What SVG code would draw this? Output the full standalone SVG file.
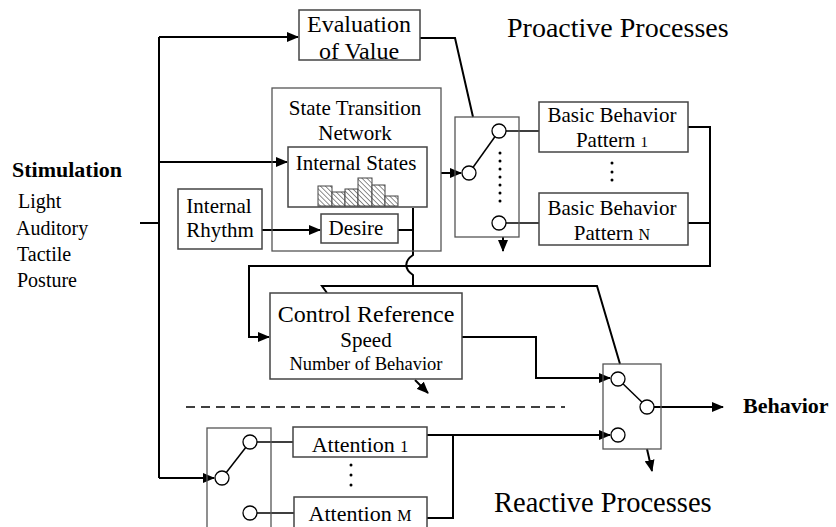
<svg xmlns="http://www.w3.org/2000/svg" width="836" height="527" viewBox="0 0 836 527">
<style>
.bx{fill:#fff;stroke:#444;stroke-width:1.5}
.gb{fill:none;stroke:#555;stroke-width:1.3}
.ln{fill:none;stroke:#000;stroke-width:2}
.th{fill:none;stroke:#000;stroke-width:1.5}
.c{fill:#fff;stroke:#000;stroke-width:1.3}
.t{font-family:"Liberation Serif","Times New Roman",serif;fill:#000}
.b{font-weight:bold}
.m{text-anchor:middle}
.dot{fill:#000}
</style>
<defs>
<marker id="ah" markerUnits="userSpaceOnUse" markerWidth="12" markerHeight="10" refX="11" refY="5" orient="auto">
<path d="M0,0 L12,5 L0,10 Z" fill="#000"/>
</marker>
<pattern id="hatch" patternUnits="userSpaceOnUse" width="3.5" height="3.5" patternTransform="rotate(-45)">
<rect width="3.5" height="3.5" fill="#fff"/>
<line x1="0" y1="0" x2="0" y2="3.5" stroke="#333" stroke-width="1.1"/>
</pattern>
</defs>

<g id="connectors">
<path class="ln" d="M159,37 V478"/>
<path class="ln" d="M140,223 H159"/>
<path class="ln" d="M159,37 H298" marker-end="url(#ah)"/>
<path class="ln" d="M159,162 H287" marker-end="url(#ah)"/>
<path class="ln" d="M159,478 H214" marker-end="url(#ah)"/>
<path class="ln" d="M262,230 H320" marker-end="url(#ah)"/>
<path class="ln" d="M420,38 H455 L473,117"/>
<path class="ln" d="M441,173 H461" marker-end="url(#ah)"/>
<path class="ln" d="M688,127 H710 V266 H249 V337 H269" marker-end="url(#ah)"/>
<path class="ln" d="M688,223 H710"/>
<path class="ln" d="M398,230 H413"/>
<path class="ln" d="M413,208 V255 C404,261 404,269 413,275 V286"/>
<path class="ln" d="M327,293 L322,286 H597 L620,364"/>
<path class="ln" d="M462,337 H536 V378 H610" marker-end="url(#ah)"/>
<path class="ln" d="M427,435 H610" marker-end="url(#ah)"/>
<path class="ln" d="M427,518 H453 V435"/>
<path class="ln" d="M654,407 H723" marker-end="url(#ah)"/>
<path class="ln" d="M503,237 V251" marker-end="url(#ah)"/>
<path class="ln" d="M415,380 L428,393" marker-end="url(#ah)"/>
<path class="ln" d="M647,449 L652,471" marker-end="url(#ah)"/>
<path class="th" d="M506,131 H539 M506,223 H539 M257,442 H293 M257,513 H294"/>
<path class="th" d="M186,407 H565" stroke-dasharray="9 6"/>
</g>

<g id="evaluation">
<rect class="bx" x="299" y="10" width="121" height="50"/>
<text class="t m" x="359" y="32" font-size="24">Evaluation</text>
<text class="t m" x="359" y="59" font-size="24">of Value</text>
</g>

<g id="state-transition">
<rect class="gb" x="272" y="88" width="169" height="163"/>
<text class="t m" x="355" y="115" font-size="21">State Transition</text>
<text class="t m" x="355" y="140" font-size="21">Network</text>
</g>

<g id="internal-states">
<rect class="bx" x="288" y="147" width="139" height="60"/>
<text class="t m" x="356" y="170" font-size="21">Internal States</text>
<g stroke="#444" stroke-width="1" fill="url(#hatch)">
<rect x="318" y="186" width="14" height="20"/>
<rect x="332" y="192" width="13" height="14"/>
<rect x="345" y="189" width="13" height="17"/>
<rect x="358" y="178" width="14" height="28"/>
<rect x="372" y="185" width="13" height="21"/>
<rect x="385" y="196" width="13" height="10"/>
</g>
</g>

<g id="internal-rhythm">
<rect class="bx" x="178" y="189" width="84" height="60"/>
<text class="t m" x="219" y="213" font-size="21">Internal</text>
<text class="t m" x="220" y="237" font-size="21">Rhythm</text>
</g>

<g id="desire">
<rect class="bx" x="321" y="214" width="77" height="29"/>
<text class="t m" x="356" y="235" font-size="21">Desire</text>
</g>

<g id="proactive-switch">
<rect class="gb" x="455" y="117" width="64" height="120"/>
<line class="th" x1="469" y1="173" x2="499" y2="131"/>
<circle class="c" cx="469" cy="173" r="7"/>
<circle class="c" cx="499" cy="131" r="7"/>
<circle class="c" cx="499" cy="223" r="7"/>
<g class="dot">
<circle cx="500" cy="153" r="1.5"/><circle cx="500" cy="161" r="1.5"/><circle cx="500" cy="169" r="1.5"/><circle cx="500" cy="177" r="1.5"/><circle cx="500" cy="185" r="1.5"/><circle cx="500" cy="193" r="1.5"/><circle cx="500" cy="201" r="1.5"/>
</g>
</g>

<g id="basic-behavior-1">
<rect class="bx" x="539" y="102" width="149" height="50"/>
<text class="t m" x="612" y="122" font-size="21">Basic Behavior</text>
<text class="t m" x="612" y="147" font-size="21">Pattern <tspan font-size="15">1</tspan></text>
</g>

<g id="basic-dots" class="dot">
<circle cx="612" cy="163" r="1.5"/><circle cx="612" cy="172" r="1.5"/><circle cx="612" cy="180" r="1.5"/>
</g>

<g id="basic-behavior-n">
<rect class="bx" x="539" y="193" width="149" height="52"/>
<text class="t m" x="612" y="215" font-size="21">Basic Behavior</text>
<text class="t m" x="612" y="240" font-size="21">Pattern <tspan font-size="16">N</tspan></text>
</g>

<g id="control-reference">
<rect class="bx" x="270" y="293" width="192" height="86"/>
<text class="t m" x="366" y="322" font-size="24">Control Reference</text>
<text class="t m" x="366" y="347" font-size="21">Speed</text>
<text class="t m" x="366" y="370" font-size="18.5">Number of Behavior</text>
</g>

<g id="behavior-switch">
<rect class="gb" x="603" y="364" width="58" height="85"/>
<line class="th" x1="618" y1="379" x2="647" y2="407"/>
<circle class="c" cx="618" cy="379" r="7"/>
<circle class="c" cx="647" cy="407" r="7"/>
<circle class="c" cx="618" cy="435" r="7"/>
</g>

<g id="attention-switch">
<rect class="gb" x="207" y="428" width="64" height="112"/>
<line class="th" x1="222" y1="478" x2="250" y2="442"/>
<circle class="c" cx="222" cy="478" r="7"/>
<circle class="c" cx="250" cy="442" r="7"/>
<circle class="c" cx="250" cy="513" r="7"/>
</g>

<g id="attention-1">
<rect class="bx" x="293" y="427" width="134" height="30"/>
<text class="t m" x="360" y="452" font-size="22">Attention <tspan font-size="16">1</tspan></text>
</g>

<g id="attention-dots" class="dot">
<circle cx="351" cy="465" r="1.5"/><circle cx="351" cy="475" r="1.5"/><circle cx="351" cy="485" r="1.5"/>
</g>

<g id="attention-m">
<rect class="bx" x="294" y="497" width="133" height="32"/>
<text class="t m" x="360" y="521" font-size="22">Attention <tspan font-size="16">M</tspan></text>
</g>

<g id="stimulation">
<text class="t b" x="12" y="177" font-size="22">Stimulation</text>
<text class="t" x="18" y="208" font-size="20">Light</text>
<text class="t" x="16" y="235" font-size="20">Auditory</text>
<text class="t" x="17" y="261" font-size="20">Tactile</text>
<text class="t" x="17" y="287" font-size="20">Posture</text>
</g>

<g id="behavior">
<text class="t b" x="743" y="413" font-size="22">Behavior</text>
</g>

<g id="labels">
<text class="t" x="507" y="37" font-size="28">Proactive Processes</text>
<text class="t" x="494" y="512" font-size="28.5">Reactive Processes</text>
</g>
</svg>
